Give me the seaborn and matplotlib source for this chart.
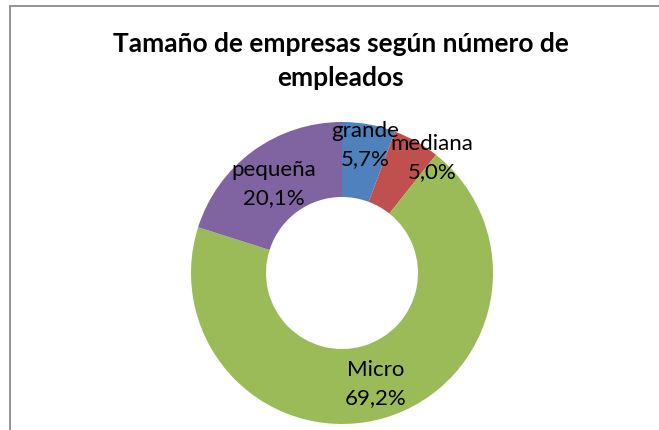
import matplotlib
matplotlib.use("Agg")
import matplotlib.pyplot as plt
import seaborn as sns
import numpy as np
from matplotlib.patches import Rectangle

categories = ["grande", "mediana", "Micro", "pequeña"]
values = [5.7, 5.0, 69.2, 20.1]
value_labels = ["5,7%", "5,0%", "69,2%", "20,1%"]
colors = ["#4F81BD", "#C0504D", "#9BBB59", "#8064A2"]
title = "Tamaño de empresas según número de\nempleados"

sns.set_theme(style="white")
plt.rcParams["font.family"] = ["Lato", "DejaVu Sans"]

W, H = 659, 431
fig = plt.figure(figsize=(W / 100, H / 100), dpi=100)
ax = fig.add_axes([0, 0, 1, 1])
ax.set_xlim(0, W)
ax.set_ylim(0, H)
ax.set_aspect("equal")
ax.axis("off")

cx, cy, R = 342, H - 274, 151
wedges, _ = ax.pie(values, colors=colors, startangle=90, counterclock=False,
                   center=(cx, cy), radius=R,
                   wedgeprops=dict(width=R - 76, edgecolor="none"))
ax.set_xlim(0, W)
ax.set_ylim(0, H)

# label positions (pixel coords from top-left)
label_pos = [(365, 145), (432, 158), (376, 384), (274, 184)]
for cat, vl, (px, py) in zip(categories, value_labels, label_pos):
    ax.text(px, H - py, f"{cat}\n{vl}", ha="center", va="center",
            fontsize=16, color="black", linespacing=1.45)

ax.text(341, H - 61, title, ha="center", va="center", fontsize=19,
        fontweight="bold", color="black", linespacing=1.5)

# chart border
ax.add_patch(Rectangle((10, -10), W + 10, H - 7 + 10, fill=False,
                       edgecolor="#8c8c8c", linewidth=1.3, clip_on=False))

fig.savefig("out.png", dpi=100)
